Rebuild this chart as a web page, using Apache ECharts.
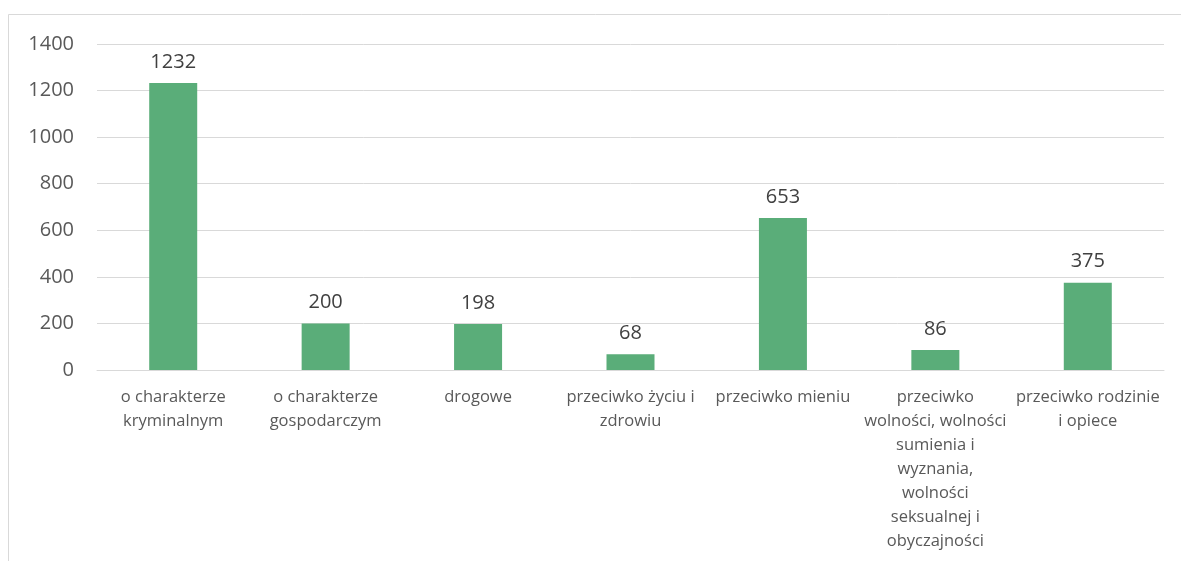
<!DOCTYPE html>
<html><head><meta charset="utf-8">
<script src="https://cdn.jsdelivr.net/npm/echarts@6/dist/echarts.min.js"></script>
<style>html,body{margin:0;padding:0;background:#fff}#c{width:1181px;height:561px}</style>
</head><body><div id="c"></div>
<script>
const categories = [
  'o charakterze\nkryminalnym',
  'o charakterze\ngospodarczym',
  'drogowe',
  'przeciwko życiu i\nzdrowiu',
  'przeciwko mieniu',
  'przeciwko\nwolności, wolności\nsumienia i\nwyznania,\nwolności\nseksualnej i\nobyczajności',
  'przeciwko rodzinie\ni opiece'
];
const values = [1232, 200, 198, 68, 653, 86, 375];
const yTicks = { min: 0, max: 1400, interval: 200 };

const chart = echarts.init(document.getElementById('c'), null, {renderer: 'canvas'});
chart.setOption({
  animation: false,
  backgroundColor: '#fff',
  graphic: [{
    type: 'rect', shape: {x: 8.5, y: 14.5, width: 1300, height: 700},
    style: {fill: 'none', stroke: '#d9d9d9', lineWidth: 1}, silent: true, z: -1
  }],
  grid: {left: 97, right: 17, top: 44, bottom: 191, containLabel: false},
  xAxis: {
    type: 'category', data: categories,
    axisLine: {show: true, lineStyle: {color: '#d9d9d9', width: 1}},
    axisTick: {show: false},
    axisLabel: {interval: 0, color: '#595959', fontFamily: 'Open Sans', fontSize: 16.5, lineHeight: 24, margin: 15}
  },
  yAxis: {
    type: 'value', min: yTicks.min, max: yTicks.max, interval: yTicks.interval,
    axisLine: {show: false}, axisTick: {show: false},
    splitLine: {lineStyle: {color: '#d9d9d9', width: 1}},
    axisLabel: {color: '#595959', fontFamily: 'Open Sans', fontSize: 20, margin: 23, formatter: v => String(v)}
  },
  series: [{
    type: 'bar', data: values, barWidth: 48,
    itemStyle: {color: '#5aad79'},
    label: {show: true, position: 'top', distance: 11, color: '#404040', fontFamily: 'Open Sans', fontSize: 20}
  }]
});
</script></body></html>
